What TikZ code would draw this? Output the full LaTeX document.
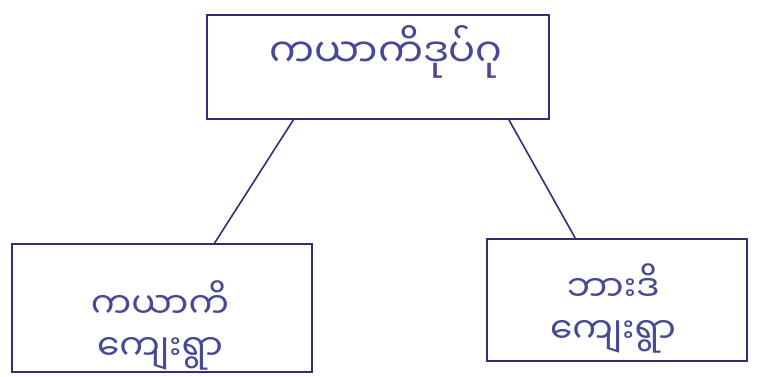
\documentclass[tikz,border=0pt]{standalone}
\usepackage{fontspec}
\newfontfamily\mmfont[Script=Myanmar]{Noto Sans Myanmar UI}
\definecolor{ink}{RGB}{48,48,118}
\definecolor{inktext}{RGB}{72,72,150}
\newcommand*{\picW}{759}
\newcommand*{\picH}{376}

\begin{document}
\begin{tikzpicture}[x=1pt,y=-1pt,
        tree box/.style={draw=ink, line width=1.8pt, inner sep=0pt},
        tree text/.style={text=inktext, font=\mmfont\fontsize{36}{42}\selectfont, align=center},
        tree line/.style={draw=ink, line width=1.6pt}]
        \useasboundingbox (0,0) rectangle (\picW,\picH);
        % boxes
        \node [tree box, minimum width=342pt, minimum height=104pt] (root) at (378,67) {};
        \node [tree box, minimum width=300pt, minimum height=128pt] (village) at (162,308) {};
        \node [tree box, minimum width=260pt, minimum height=122pt] (other) at (617,300) {};
        % texts
        \node [tree text, font=\mmfont\fontsize{40}{42}\selectfont] (root text) at (386,52) {ကယာကိဒုပ်ဂု};
        \node [tree text] (village text) at (160,325) {ကယာကိ\\ကျေးရွာ};
        \node [tree text] (other text) at (613,308) {ဘားဒိ\\ကျေးရွာ};
        % connectors
        \draw [tree line] (root.212) -- (village.51);
        \draw [tree line] (root.338) -- (other.124);
    \end{tikzpicture}
\end{document}
